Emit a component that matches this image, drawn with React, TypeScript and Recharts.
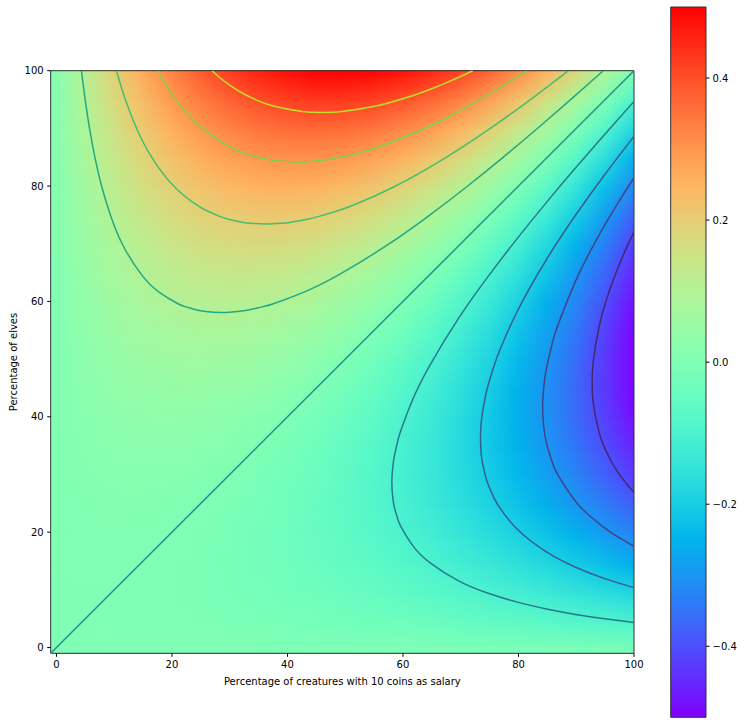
import { ScatterChart, Scatter, XAxis, YAxis, ReferenceArea } from "recharts";

// grid positions (both axes) of the sampled field
const GRID = [-1, 4.05, 9.1, 14.15, 19.2, 24.25, 29.3, 34.35, 39.4, 44.45, 49.5, 54.55, 59.6, 64.65, 69.7, 74.75, 79.8, 84.85, 89.9, 94.95, 100];

// field values, bottom row first
const HEAT_ROWS: number[][] = [
  [0, 0, 0, 0, 0, 0, 0, 0, 0, 0, 0, 0, 0, 0, 0, 0, 0, 0, 0, 0, 0],
  [0, 0, -0.001, -0.002, -0.003, -0.005, -0.008, -0.011, -0.014, -0.018, -0.023, -0.028, -0.033, -0.039, -0.046, -0.053, -0.06, -0.068, -0.077, -0.086, -0.095],
  [0, 0.001, 0, -0.002, -0.004, -0.008, -0.012, -0.018, -0.024, -0.032, -0.04, -0.05, -0.06, -0.072, -0.084, -0.098, -0.112, -0.128, -0.144, -0.162, -0.18],
  [0, 0.002, 0.002, 0, -0.003, -0.008, -0.014, -0.021, -0.03, -0.041, -0.053, -0.066, -0.081, -0.098, -0.116, -0.135, -0.156, -0.179, -0.203, -0.228, -0.255],
  [0, 0.003, 0.004, 0.003, 0, -0.005, -0.012, -0.021, -0.032, -0.045, -0.06, -0.077, -0.096, -0.117, -0.14, -0.165, -0.192, -0.221, -0.252, -0.285, -0.32],
  [0, 0.005, 0.008, 0.008, 0.005, 0, -0.008, -0.018, -0.03, -0.045, -0.063, -0.083, -0.105, -0.13, -0.158, -0.188, -0.22, -0.255, -0.293, -0.333, -0.375],
  [0, 0.008, 0.012, 0.014, 0.012, 0.008, 0, -0.011, -0.024, -0.041, -0.06, -0.083, -0.108, -0.137, -0.168, -0.203, -0.24, -0.281, -0.324, -0.371, -0.42],
  [0, 0.011, 0.018, 0.021, 0.021, 0.018, 0.011, 0, -0.014, -0.032, -0.053, -0.077, -0.105, -0.137, -0.172, -0.21, -0.252, -0.298, -0.347, -0.399, -0.455],
  [0, 0.014, 0.024, 0.03, 0.032, 0.03, 0.024, 0.014, 0, -0.018, -0.04, -0.066, -0.096, -0.13, -0.168, -0.21, -0.256, -0.306, -0.36, -0.418, -0.48],
  [0, 0.018, 0.032, 0.041, 0.045, 0.045, 0.041, 0.032, 0.018, 0, -0.023, -0.05, -0.081, -0.117, -0.158, -0.203, -0.252, -0.306, -0.365, -0.428, -0.495],
  [0, 0.023, 0.04, 0.053, 0.06, 0.063, 0.06, 0.053, 0.04, 0.023, 0, -0.028, -0.06, -0.098, -0.14, -0.188, -0.24, -0.298, -0.36, -0.428, -0.5],
  [0, 0.028, 0.05, 0.066, 0.077, 0.083, 0.083, 0.077, 0.066, 0.05, 0.028, 0, -0.033, -0.072, -0.116, -0.165, -0.22, -0.281, -0.347, -0.418, -0.495],
  [0, 0.033, 0.06, 0.081, 0.096, 0.105, 0.108, 0.105, 0.096, 0.081, 0.06, 0.033, 0, -0.039, -0.084, -0.135, -0.192, -0.255, -0.324, -0.399, -0.48],
  [0, 0.039, 0.072, 0.098, 0.117, 0.13, 0.137, 0.137, 0.13, 0.117, 0.098, 0.072, 0.039, 0, -0.046, -0.098, -0.156, -0.221, -0.293, -0.371, -0.455],
  [0, 0.046, 0.084, 0.116, 0.14, 0.158, 0.168, 0.172, 0.168, 0.158, 0.14, 0.116, 0.084, 0.046, 0, -0.053, -0.112, -0.179, -0.252, -0.333, -0.42],
  [0, 0.053, 0.098, 0.135, 0.165, 0.188, 0.203, 0.21, 0.21, 0.203, 0.188, 0.165, 0.135, 0.098, 0.053, 0, -0.06, -0.128, -0.203, -0.285, -0.375],
  [0, 0.06, 0.112, 0.156, 0.192, 0.22, 0.24, 0.252, 0.256, 0.252, 0.24, 0.22, 0.192, 0.156, 0.112, 0.06, 0, -0.068, -0.144, -0.228, -0.32],
  [0, 0.068, 0.128, 0.179, 0.221, 0.255, 0.281, 0.298, 0.306, 0.306, 0.298, 0.281, 0.255, 0.221, 0.179, 0.128, 0.068, 0, -0.077, -0.162, -0.255],
  [0, 0.077, 0.144, 0.203, 0.252, 0.293, 0.324, 0.347, 0.36, 0.365, 0.36, 0.347, 0.324, 0.293, 0.252, 0.203, 0.144, 0.077, 0, -0.086, -0.18],
  [0, 0.086, 0.162, 0.228, 0.285, 0.333, 0.371, 0.399, 0.418, 0.428, 0.428, 0.418, 0.399, 0.371, 0.333, 0.285, 0.228, 0.162, 0.086, 0, -0.095],
  [0, 0.095, 0.18, 0.255, 0.32, 0.375, 0.42, 0.455, 0.48, 0.495, 0.5, 0.495, 0.48, 0.455, 0.42, 0.375, 0.32, 0.255, 0.18, 0.095, 0],
];

const TICKS = [0, 20, 40, 60, 80, 100];
const CBAR_TICKS = [-0.4, -0.2, 0, 0.2, 0.4];
const CBAR_STOPS = [-0.5, -0.45, -0.4, -0.35, -0.3, -0.25, -0.2, -0.15, -0.1, -0.05, 0, 0.05, 0.1, 0.15, 0.2, 0.25, 0.3, 0.35, 0.4, 0.45, 0.5];

// contour lines [x, y]
const CONTOUR_ZERO = [[-1, -1], [100, 100]];
const CONTOUR_P01 = [[4.33, 100], [4.97, 94.95], [5.74, 89.9], [6.68, 84.85], [7.87, 79.8], [9.41, 74.75], [11.52, 69.7], [14.72, 64.65], [17.76, 61.62], [21.05, 59.6], [22.29, 59.1], [23.98, 58.59], [25.51, 58.29], [28.53, 58.07], [31.77, 58.29], [33.62, 58.59], [35.8, 59.1], [37.55, 59.6], [42.86, 61.62], [48.93, 64.65], [57.18, 69.7], [64.34, 74.75], [70.93, 79.8], [77.17, 84.85], [83.16, 89.9], [88.98, 94.95], [94.67, 100]];
const CONTOUR_P02 = [[10.38, 100], [11.94, 94.95], [13.92, 89.9], [16.58, 84.85], [20.5, 79.8], [24.21, 76.77], [25.95, 75.76], [28.25, 74.75], [29.83, 74.25], [32.13, 73.74], [33.67, 73.54], [36.21, 73.42], [38.86, 73.54], [40.61, 73.74], [43.42, 74.25], [45.5, 74.75], [48.81, 75.76], [51.57, 76.77], [58.3, 79.8], [67.27, 84.85], [74.98, 89.9], [82.01, 94.95], [88.62, 100]];
const CONTOUR_P03 = [[17.56, 100], [19, 97.48], [20.69, 94.95], [22.74, 92.43], [25.33, 89.9], [29.85, 86.87], [32.09, 85.86], [35.42, 84.85], [38.49, 84.35], [41.59, 84.18], [44.85, 84.35], [48.44, 84.85], [52.77, 85.86], [56.02, 86.87], [63.57, 89.9], [68.69, 92.43], [73.26, 94.95], [77.48, 97.48], [81.44, 100]];
const CONTOUR_P04 = [[26.92, 100], [28.05, 98.99], [29.32, 97.98], [30.77, 96.97], [32.47, 95.96], [34.56, 94.95], [37.37, 93.94], [42.51, 92.93], [45.88, 92.76], [49.42, 92.93], [55.57, 93.94], [59.39, 94.95], [62.49, 95.96], [65.2, 96.97], [67.66, 97.98], [69.94, 98.99], [72.08, 100]];
const CONTOUR_N01 = [[100, 4.33], [94.95, 4.97], [89.9, 5.74], [84.85, 6.68], [79.8, 7.87], [74.75, 9.41], [69.7, 11.52], [64.65, 14.72], [61.62, 17.76], [59.6, 21.05], [59.1, 22.29], [58.59, 23.98], [58.29, 25.51], [58.07, 28.53], [58.29, 31.77], [58.59, 33.62], [59.1, 35.8], [59.6, 37.55], [61.62, 42.86], [64.65, 48.93], [69.7, 57.18], [74.75, 64.34], [79.8, 70.93], [84.85, 77.17], [89.9, 83.16], [94.95, 88.98], [100, 94.67]];
const CONTOUR_N02 = [[100, 10.38], [94.95, 11.94], [89.9, 13.92], [84.85, 16.58], [79.8, 20.5], [76.77, 24.21], [75.76, 25.95], [74.75, 28.25], [74.25, 29.83], [73.74, 32.13], [73.54, 33.67], [73.42, 36.21], [73.54, 38.86], [73.74, 40.61], [74.25, 43.42], [74.75, 45.5], [75.76, 48.81], [76.77, 51.57], [79.8, 58.3], [84.85, 67.27], [89.9, 74.98], [94.95, 82.01], [100, 88.62]];
const CONTOUR_N03 = [[100, 17.56], [97.48, 19], [94.95, 20.69], [92.43, 22.74], [89.9, 25.33], [86.87, 29.85], [85.86, 32.09], [84.85, 35.42], [84.35, 38.49], [84.18, 41.59], [84.35, 44.85], [84.85, 48.44], [85.86, 52.77], [86.87, 56.02], [89.9, 63.57], [92.43, 68.69], [94.95, 73.26], [97.48, 77.48], [100, 81.44]];
const CONTOUR_N04 = [[100, 26.92], [98.99, 28.05], [97.98, 29.32], [96.97, 30.77], [95.96, 32.47], [94.95, 34.56], [93.94, 37.37], [92.93, 42.51], [92.76, 45.88], [92.93, 49.42], [93.94, 55.57], [94.95, 59.39], [95.96, 62.49], [96.97, 65.2], [97.98, 67.66], [98.99, 69.94], [100, 72.08]];

const CONTOURS = [
  { id: "n04", pts: CONTOUR_N04, color: "#482475" },
  { id: "n03", pts: CONTOUR_N03, color: "#414487" },
  { id: "n02", pts: CONTOUR_N02, color: "#355f8d" },
  { id: "n01", pts: CONTOUR_N01, color: "#2a788e" },
  { id: "zero", pts: CONTOUR_ZERO, color: "#21918c" },
  { id: "p01", pts: CONTOUR_P01, color: "#22a884" },
  { id: "p02", pts: CONTOUR_P02, color: "#44bf70" },
  { id: "p03", pts: CONTOUR_P03, color: "#7ad151" },
  { id: "p04", pts: CONTOUR_P04, color: "#bddf26" },
];

const FONT = "DejaVu Sans, sans-serif";
const tickStyle = { fill: "#000", fontSize: 10, fontFamily: FONT };

// matplotlib "rainbow" colormap, vmin -0.5 / vmax 0.5
function rainbow(v: number): string {
  const t = Math.min(1, Math.max(0, v + 0.5));
  const r = Math.min(1, Math.abs(2 * t - 0.5));
  const g = Math.sin(Math.PI * t);
  const b = Math.cos((Math.PI * t) / 2);
  const h = (c: number) => Math.round(Math.max(0, Math.min(1, c)) * 255).toString(16).padStart(2, "0");
  return `#${h(r)}${h(g)}${h(b)}`;
}

function fmtBar(v: number) {
  return (v < 0 ? "\u2212" : "") + Math.abs(v).toFixed(1);
}

function NoDot() {
  return <g />;
}

function Band(props: any) {
  const { x, y, width, height, row } = props;
  return (
    <g>
      <rect x={x} y={y - 0.5} width={width} height={height + 1} fill={`url(#row-${row})`} />
      <rect x={x} y={y - 0.5} width={width} height={height + 1} fill={`url(#row-${row + 1})`} mask="url(#fade)" />
    </g>
  );
}

function HeatDefs() {
  return (
    <defs>
      {HEAT_ROWS.map((row, j) => (
        <linearGradient key={j} id={`row-${j}`} x1={0} y1={0} x2={1} y2={0}>
          {row.map((v, i) => (
            <stop key={i} offset={(GRID[i] - GRID[0]) / (GRID[GRID.length - 1] - GRID[0])} stopColor={rainbow(v)} />
          ))}
        </linearGradient>
      ))}
      <linearGradient id="fadeGrad" x1={0} y1={0} x2={0} y2={1}>
        <stop offset={0} stopColor="#fff" stopOpacity={1} />
        <stop offset={1} stopColor="#fff" stopOpacity={0} />
      </linearGradient>
      <mask id="fade" maskContentUnits="objectBoundingBox">
        <rect x={0} y={0} width={1} height={1} fill="url(#fadeGrad)" />
      </mask>
    </defs>
  );
}

export default function App() {
  const lo = GRID[0];
  const hi = GRID[GRID.length - 1];
  const barData = CBAR_STOPS.map((v) => ({ x: 0.5, v }));
  return (
    <div style={{ position: "absolute", left: 0, top: 0, width: 748, height: 725, background: "#fff" }}>
      <div style={{ position: "absolute", left: 0, top: 0 }}>
        <ScatterChart width={660} height={725} margin={{ top: 70.7, right: 26, bottom: 31.7, left: 0 }}>
          <HeatDefs />
          <XAxis
            type="number"
            dataKey="x"
            domain={[lo, hi]}
            ticks={TICKS}
            allowDataOverflow
            height={40}
            tickSize={3.5}
            tickMargin={4}
            axisLine={false}
            tickLine={{ stroke: "#000" }}
            tick={tickStyle}
            label={{
              content: (p: any) => (
                <text
                  x={p.viewBox.x + p.viewBox.width / 2}
                  y={685}
                  textAnchor="middle"
                  fontSize={10}
                  fontFamily={FONT}
                  fill="#000"
                >
                  Percentage of creatures with 10 coins as salary
                </text>
              ),
            }}
          />
          <YAxis
            type="number"
            dataKey="y"
            domain={[lo, hi]}
            ticks={TICKS}
            allowDataOverflow
            width={50.7}
            tickSize={3.5}
            tickMargin={3.5}
            axisLine={false}
            tickLine={{ stroke: "#000" }}
            tick={tickStyle}
            label={{
              content: (p: any) => (
                <text
                  transform={`translate(16.7, ${p.viewBox.y + p.viewBox.height / 2}) rotate(-90)`}
                  textAnchor="middle"
                  fontSize={10}
                  fontFamily={FONT}
                  fill="#000"
                >
                  Percentage of elves
                </text>
              ),
            }}
          />
          {GRID.slice(0, -1).map((y, j) => (
            <ReferenceArea
              key={`band-${j}`}
              x1={lo}
              x2={hi}
              y1={y}
              y2={GRID[j + 1]}
              shape={(p: any) => <Band {...p} row={j} />}
            />
          ))}
          {CONTOURS.map((c) => (
            <Scatter
              key={c.id}
              data={c.pts.map(([x, y]) => ({ x, y }))}
              line={{ stroke: c.color, strokeWidth: 1.5 }}
              lineJointType="natural"
              shape={NoDot}
              isAnimationActive={false}
            />
          ))}
          <ReferenceArea x1={lo} x2={hi} y1={lo} y2={hi} fill="none" fillOpacity={0} stroke="#333" strokeWidth={1} />
        </ScatterChart>
      </div>
      <div style={{ position: "absolute", left: 640, top: 0 }}>
        <ScatterChart width={108} height={725} margin={{ top: 7, right: 0, bottom: 7.7, left: 30.7 }}>
          <defs>
            <linearGradient id="cbar" x1={0} y1={1} x2={0} y2={0}>
              {CBAR_STOPS.map((v, i) => (
                <stop key={i} offset={v + 0.5} stopColor={rainbow(v)} />
              ))}
            </linearGradient>
          </defs>
          <XAxis type="number" dataKey="x" domain={[0, 1]} hide />
          <YAxis
            type="number"
            dataKey="v"
            orientation="right"
            domain={[-0.5, 0.5]}
            ticks={CBAR_TICKS}
            allowDataOverflow
            width={42}
            tickSize={3.5}
            tickMargin={3}
            axisLine={false}
            tickLine={{ stroke: "#000" }}
            tick={tickStyle}
            tickFormatter={fmtBar}
          />
          <Scatter data={barData} shape={NoDot} isAnimationActive={false} />
          <ReferenceArea x1={0} x2={1} y1={-0.5} y2={0.5} fill="url(#cbar)" fillOpacity={1} stroke="#333" strokeWidth={1} />
        </ScatterChart>
      </div>
    </div>
  );
}
